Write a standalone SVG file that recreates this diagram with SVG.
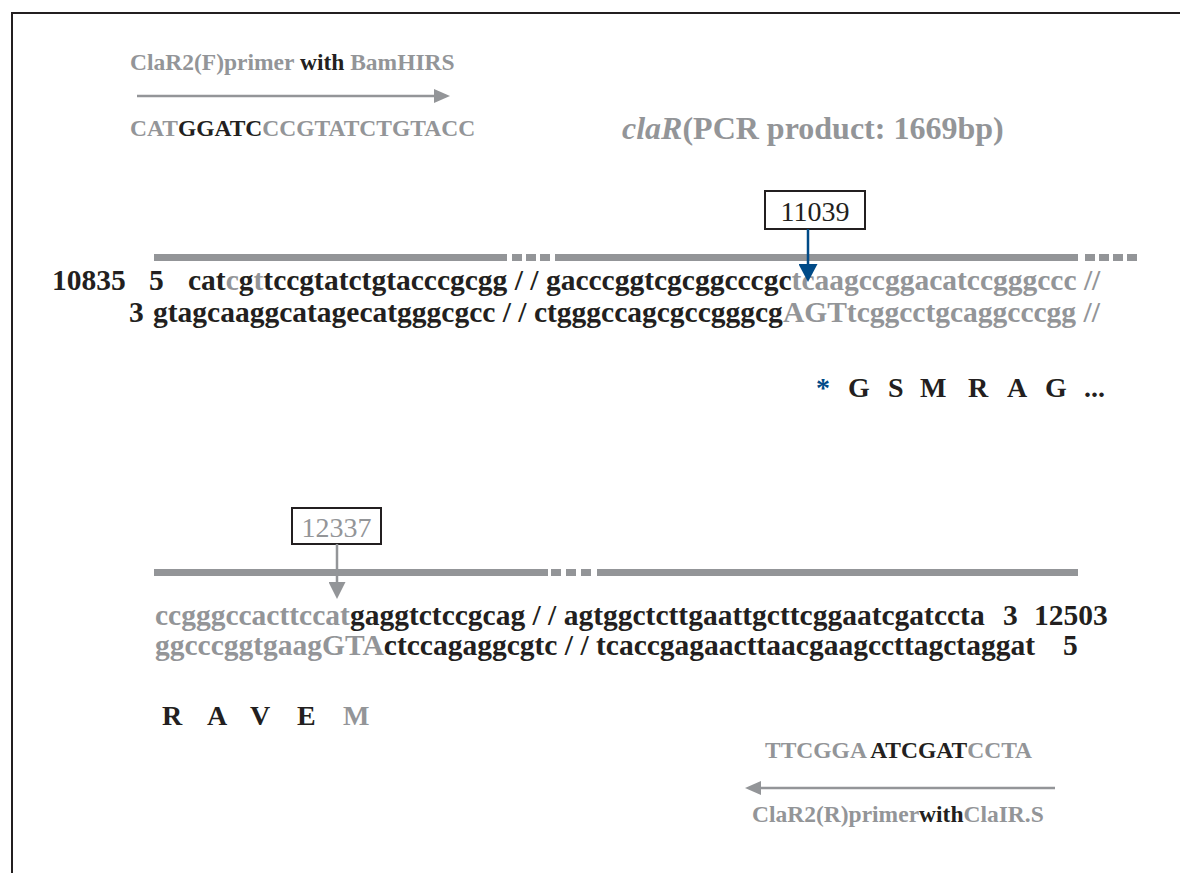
<svg xmlns="http://www.w3.org/2000/svg" width="1180" height="873" viewBox="0 0 1180 873">
<style>
text{font-family:"Liberation Serif","Times New Roman",serif;font-weight:bold;fill:#231f20}
.g{fill:#939598}
.k{fill:#231f20}
.b{fill:#004a87}
.lab{font-size:23.5px}
.seq{font-size:29.5px}
.aa{font-size:28px}
.num{font-size:28px;font-weight:normal}
.bar{fill:#939598}
.box{fill:#fff;stroke:#231f20;stroke-width:2}
</style>
<defs>
<marker id="ahg" markerUnits="userSpaceOnUse" markerWidth="16" markerHeight="14" refX="4" refY="7" orient="auto"><path d="M0,0 L16,7 L0,14 z" fill="#939598"/></marker>
<marker id="ahd" markerUnits="userSpaceOnUse" markerWidth="17" markerHeight="17" refX="5" refY="8.5" orient="auto"><path d="M0,0 L17,8.5 L0,17 z" fill="#939598"/></marker>
<marker id="ahb" markerUnits="userSpaceOnUse" markerWidth="18" markerHeight="19" refX="6" refY="9.5" orient="auto"><path d="M0,0 L18,9.5 L0,19 z" fill="#004a87"/></marker>
</defs>
<rect width="1180" height="873" fill="#fff"/>
<path id="frame" d="M12 873 V13 H1180" fill="none" stroke="#231f20" stroke-width="2"/>

<g id="primer-f">
<text class="lab" x="130" y="70"><tspan class="g">ClaR2(F)primer </tspan>with <tspan class="g">BamHIRS</tspan></text>
<text class="lab" x="130" y="136"><tspan class="g">CAT</tspan>GGATC<tspan class="g">CCGTATCTGTACC</tspan></text>
</g>

<g id="title">
<text x="622" y="139" font-size="32" class="g"><tspan font-style="italic">claR</tspan>(PCR product: 1669bp)</text>
</g>

<g id="box-11039">
<rect class="box" x="765" y="191" width="100" height="38"/>
<text class="num" x="815" y="221" text-anchor="middle">11039</text>
</g>

<g id="strand-top">
<rect class="bar" x="154" y="254" width="353" height="7"/>
<rect class="bar" x="512" y="254" width="10" height="7"/>
<rect class="bar" x="526" y="254" width="10" height="7"/>
<rect class="bar" x="540" y="254" width="10" height="7"/>
<rect class="bar" x="555" y="254" width="523" height="7"/>
<rect class="bar" x="1085" y="254" width="10" height="7"/>
<rect class="bar" x="1099" y="254" width="10" height="7"/>
<rect class="bar" x="1113" y="254" width="10" height="7"/>
<rect class="bar" x="1127" y="254" width="10" height="7"/>
<text class="seq" y="290"><tspan x="52">10835</tspan><tspan x="149">5</tspan><tspan x="188">cat</tspan><tspan class="g">c</tspan>g<tspan class="g">t</tspan>tccgtatctgtacccgcgg / / gacccggtcgcggcccgc<tspan class="g">tcaagccggacatccgggccc //</tspan></text>
<text class="seq" y="322"><tspan x="129">3</tspan><tspan x="153">gtagcaaggcatagecatgggcgcc / / ctgggccagcgccgggcg</tspan><tspan class="g">AGTtcggcctgcaggcccgg //</tspan></text>
</g>

<g id="translation-top">
<text class="aa" y="397"><tspan class="b" x="816">*</tspan><tspan x="848">G</tspan><tspan x="888">S</tspan><tspan x="920">M</tspan><tspan x="968">R</tspan><tspan x="1007">A</tspan><tspan x="1045">G</tspan><tspan x="1084">...</tspan></text>
</g>

<g id="box-12337">
<rect class="box" x="292" y="508" width="89" height="36"/>
<text class="num g" x="336.5" y="537" text-anchor="middle">12337</text>
</g>

<g id="strand-bottom">
<rect class="bar" x="154" y="569" width="394" height="7"/>
<rect class="bar" x="551" y="569" width="10" height="7"/>
<rect class="bar" x="566" y="569" width="10" height="7"/>
<rect class="bar" x="581" y="569" width="10" height="7"/>
<rect class="bar" x="597" y="569" width="481" height="7"/>
<text class="seq" y="625"><tspan x="155" class="g">ccgggccacttccat</tspan>gaggtctccgcag / / agtggctcttgaattgcttcggaatcgatccta<tspan x="1003">3</tspan><tspan x="1034">12503</tspan></text>
<text class="seq" y="655"><tspan x="155" class="g">ggcccggtgaagGTA</tspan>ctccagaggcgtc / / tcaccgagaacttaacgaagccttagctaggat<tspan x="1063">5</tspan></text>
</g>

<g id="translation-bottom">
<text class="aa" y="725"><tspan x="162">R</tspan><tspan x="207">A</tspan><tspan x="250">V</tspan><tspan x="297">E</tspan><tspan x="343" class="g">M</tspan></text>
</g>

<g id="primer-r">
<text class="lab" x="765" y="758"><tspan class="g">TTCGGA </tspan>ATCGAT<tspan class="g">CCTA</tspan></text>
<text class="lab" x="752" y="822"><tspan class="g">ClaR2(R)primer</tspan>with<tspan class="g">ClaIR.S</tspan></text>
</g>

<g id="connectors" fill="none">
<line x1="137" y1="96" x2="438" y2="96" stroke="#939598" stroke-width="2.5" marker-end="url(#ahg)"/>
<line x1="1055" y1="788" x2="757" y2="788" stroke="#939598" stroke-width="2.5" marker-end="url(#ahg)"/>
<line x1="808" y1="229" x2="808" y2="270" stroke="#004a87" stroke-width="2.5" marker-end="url(#ahb)"/>
<line x1="337" y1="544" x2="337" y2="587" stroke="#939598" stroke-width="2.5" marker-end="url(#ahd)"/>
</g>
</svg>
